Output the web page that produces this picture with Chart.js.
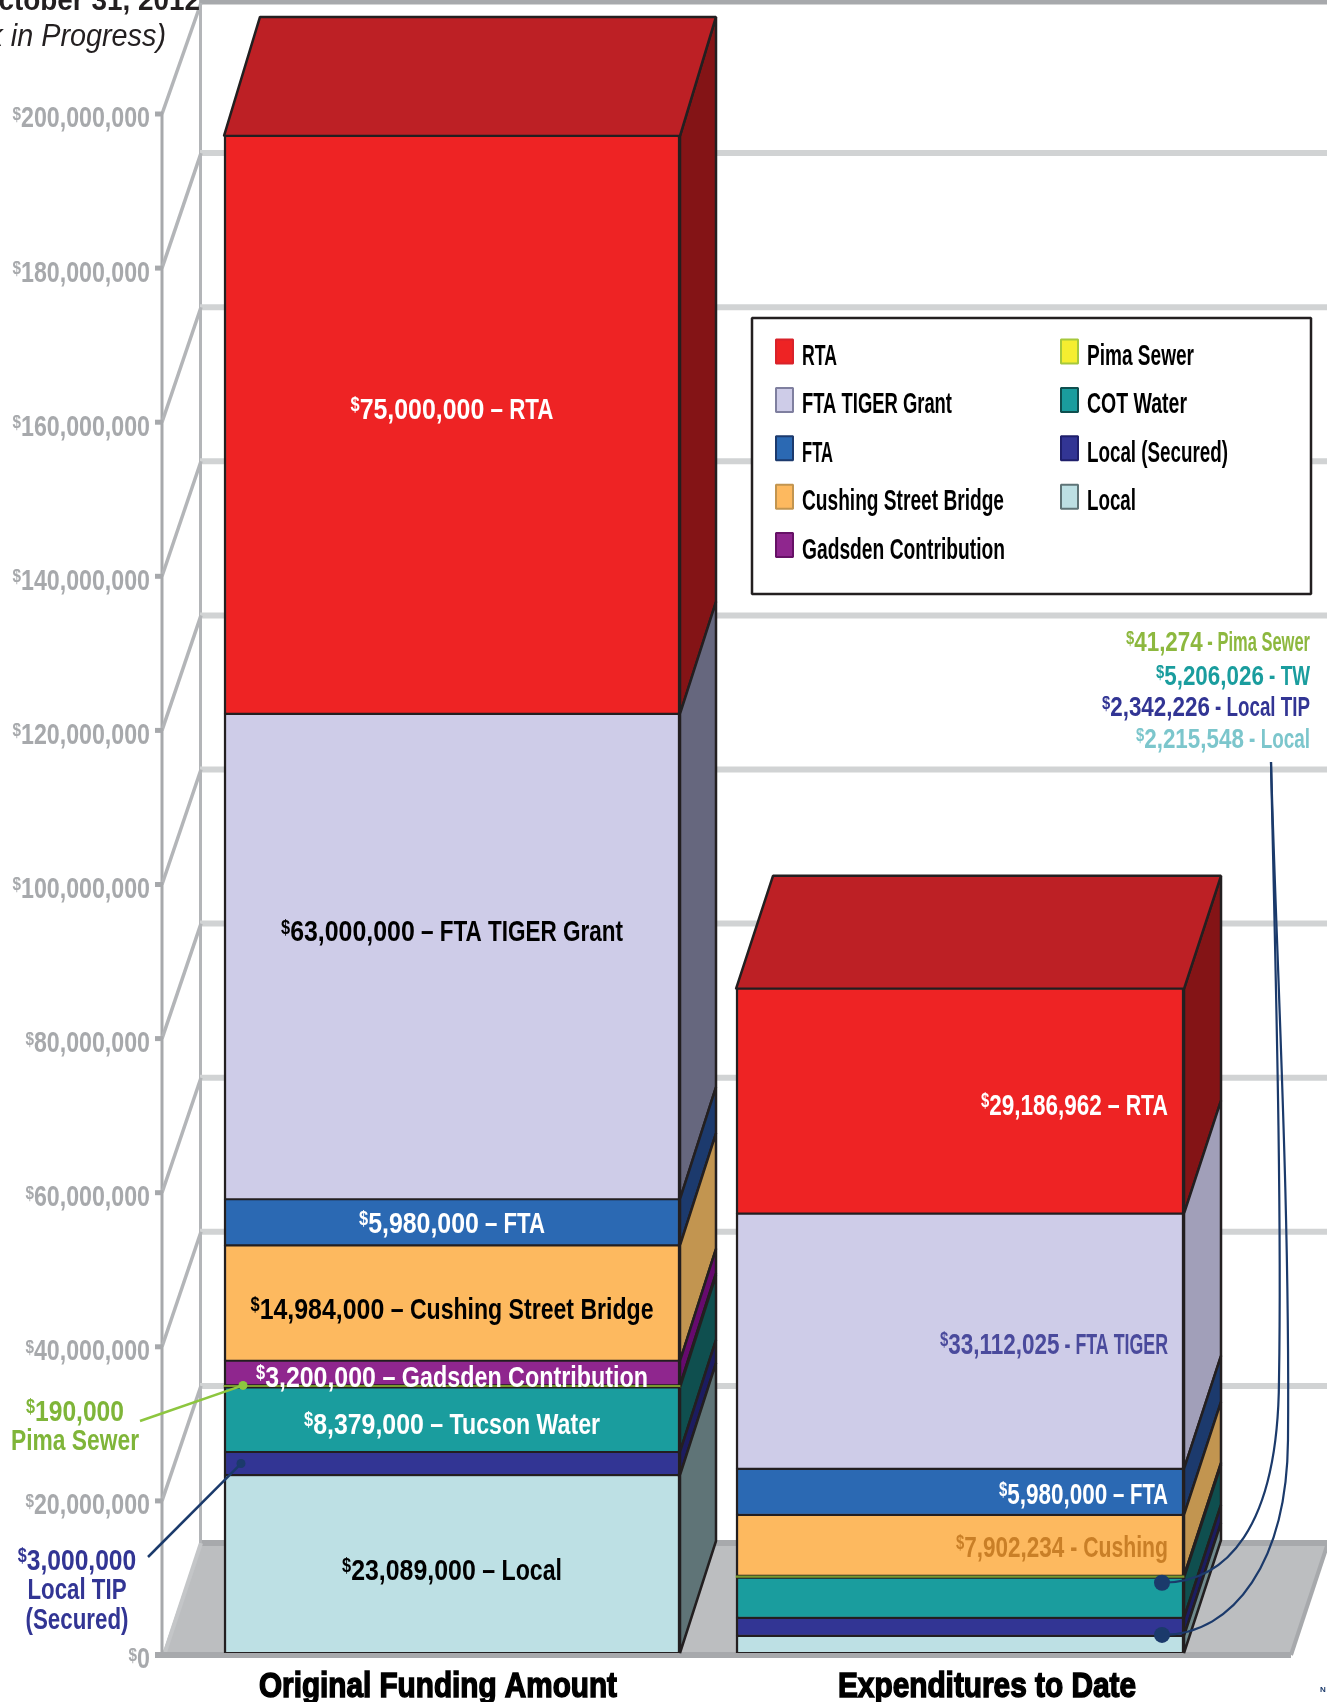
<!DOCTYPE html>
<html>
<head>
<meta charset="utf-8">
<title>Funding and expenditures</title>
<style>
html,body{margin:0;padding:0;background:#fff;overflow:hidden}
canvas{display:block}
</style>
<script src="https://cdn.jsdelivr.net/npm/chart.js@4"></script>
</head>
<body>
<canvas id="fundingChart" width="1327" height="1702"></canvas>
<script>
/// data, each series holds [Original Funding Amount, Expenditures to Date]
const aBars=["Original Funding Amount","Expenditures to Date"];
const aLocal=[23089000,2215548];
const aLocalSecured=[3000000,2342226];
const aCotWater=[8379000,5206026];
const aPimaSewer=[190000,41274];
const aGadsden=[3200000,null];
const aCushing=[14984000,7902234];
const aFta=[5980000,5980000];
const aTiger=[63000000,33112025];
const aRta=[75000000,29186962];
const aYTicks=[0,20000000,40000000,60000000,80000000,100000000,120000000,140000000,160000000,180000000,200000000];

/// stack order, bottom first
const aSeriesNames=["Local","Local (Secured)","COT Water","Pima Sewer","Gadsden Contribution","Cushing Street Bridge","FTA","FTA TIGER Grant","RTA"];
const aSeriesValues=[aLocal,aLocalSecured,aCotWater,aPimaSewer,aGadsden,aCushing,aFta,aTiger,aRta];
const aFill=["#bde0e4","#323594","#1a9d9e","#7a9a2e","#8f268e","#fdb95f","#2b69b3","#cecce8","#ee2324"];
const aSideLeft=["#5f7477","#1c1c60","#0f4f4f","#231f20","#660a6e","#c29550","#1c3a6d","#66677e","#841416"];
const aSideRight=["#6f8a8c","#1c1c60","#0f4f4f","#231f20","#660a6e","#c29550","#1c3a6d","#a19fb9","#841416"];

/// segment captions [text, colour, y nudge, text width], null when there is none
const aCaptionsLeft=[
    ["$23,089,000 – Local","#000",5,220],null,["$8,379,000 – Tucson Water","#fff",3,296],null,
    ["$3,200,000 – Gadsden Contribution","#fff",3,392],["$14,984,000 – Cushing Street Bridge","#000",5,403],
    ["$5,980,000 – FTA","#fff",0,186],["$63,000,000 – FTA TIGER Grant","#000",-26,342],["$75,000,000 – RTA","#fff",-17,203]
];
const aCaptionsRight=[
    null,null,null,null,null,["$7,902,234 - Cushing","#c97f27",1,212],
    ["$5,980,000 – FTA","#fff",1,169],["$33,112,025 - FTA TIGER","#4a4a9c",2,228],["$29,186,962 – RTA","#fff",3,187]
];

const aLegendLeft=[["RTA","#ee2324","#d8222a",35],["FTA TIGER Grant","#cecce8","#7f7f9f",150],["FTA","#2b69b3","#1c3a6d",31],["Cushing Street Bridge","#fdb95f","#c29550",202],["Gadsden Contribution","#8f268e","#661166",203]];
const aLegendRight=[["Pima Sewer","#f5ee30","#a6c83c",107],["COT Water","#1a9d9e","#0f4f4f",100],["Local (Secured)","#323594","#1f1f6b",141],["Local","#bde0e4","#5f7477",49]];
const aCallouts=[["$41,274 - Pima Sewer","#8db83f",184],["$5,206,026 - TW","#1a9d9e",154],["$2,342,226 - Local TIP","#323594",208],["$2,215,548 - Local","#7cc6cc",174]];

const sFace='"Liberation Sans",sans-serif';
const aDepth=[[36,-112,-119],[37,-113,-113]];
const aBarWidth=[456,448];

// one dataset per series per bar, so the two bars can have their own width
function getBar(chart,iSeries,iBar){
    return chart.getDatasetMeta(iBar*aSeriesNames.length+iSeries).data[iBar];
}

function setFont(ctx,iSize){
    ctx.font="bold "+iSize+"px "+sFace;
}

function fillSquashed(ctx,sText,x,y,iSx){
    ctx.save();
    ctx.translate(x,y);
    ctx.scale(iSx,1);
    ctx.fillText(sText,0,0);
    ctx.restore();
}

// condensed text with the small raised dollar sign, no condensed font is installed so it gets squeezed
function drawMoney(ctx,sText,x,y,sAlign,sColour,iSize,iTotal,iAmountSx){
    const bDollar=sText.charAt(0)==="$";
    const iSpace=sText.indexOf(" ");
    let sAmount="";
    let sRest=sText;
    const iSx=iAmountSx||0.8;
    if(bDollar){
        sAmount=iSpace<0?sText.slice(1):sText.slice(1,iSpace);
        sRest=iSpace<0?"":sText.slice(iSpace);
    }
    const iSup=iSize*0.66;
    setFont(ctx,iSup);
    const iSupWidth=bDollar?ctx.measureText("$").width*iSx:0;
    setFont(ctx,iSize);
    const iAmountWidth=ctx.measureText(sAmount).width*iSx;
    const iRestNatural=ctx.measureText(sRest).width;
    let iRestSx=iSx;
    if(iTotal&&iRestNatural>0){iRestSx=(iTotal-iSupWidth-iAmountWidth)/iRestNatural;}
    const iWidth=iSupWidth+iAmountWidth+iRestNatural*iRestSx;
    let iLeft=x;
    if(sAlign==="right"){iLeft=x-iWidth;}
    if(sAlign==="center"){iLeft=x-iWidth/2;}
    const iBase=y+iSize*0.36;
    ctx.textAlign="left";
    ctx.textBaseline="alphabetic";
    ctx.fillStyle=sColour;
    if(bDollar){
        setFont(ctx,iSup);
        fillSquashed(ctx,"$",iLeft,iBase-iSize*0.26,iSx);
        setFont(ctx,iSize);
        fillSquashed(ctx,sAmount,iLeft+iSupWidth,iBase,iSx);
    }
    if(sRest){fillSquashed(ctx,sRest,iLeft+iSupWidth+iAmountWidth,iBase,iRestSx);}
}

function poly(ctx,aPoints,sFill,sStroke,iWidth){
    ctx.beginPath();
    aPoints.forEach((p,i)=>{ if(i===0){ctx.moveTo(p[0],p[1]);}else{ctx.lineTo(p[0],p[1]);} });
    ctx.closePath();
    if(sFill){ctx.fillStyle=sFill;ctx.fill();}
    if(sStroke){ctx.strokeStyle=sStroke;ctx.lineWidth=iWidth;ctx.lineJoin="bevel";ctx.stroke();}
}

function line(ctx,x1,y1,x2,y2,sColour,iWidth){
    ctx.beginPath();
    ctx.moveTo(x1,y1);
    ctx.lineTo(x2,y2);
    ctx.strokeStyle=sColour;
    ctx.lineWidth=iWidth;
    ctx.stroke();
}

function dot(ctx,x,y,r,sColour){
    ctx.beginPath();
    ctx.arc(x,y,r,0,Math.PI*2);
    ctx.fillStyle=sColour;
    ctx.fill();
}

//// walls, floor, gridlines and the 3d faces of the bars
const backdropPlugin={
    id:"backdrop",
    beforeDatasetsDraw(chart){
        const ctx=chart.ctx;
        const y=chart.scales.y;
        const iMax=aYTicks[aYTicks.length-1];
        ctx.save();
        const iFloor=1543;
        poly(ctx,[[162,1655],[200,iFloor],[1327,iFloor],[1327,1546],[1291,1655]],"#bcbec0");
        line(ctx,200,iFloor,1327,iFloor,"#a7a9ac",6);
        line(ctx,164,1655,201,iFloor,"#c4c6c8",4);
        line(ctx,1291,1655,1327,1546,"#a7a9ac",4);
        line(ctx,155,1655,1291,1655,"#a7a9ac",6);
        line(ctx,162,y.getPixelForValue(iMax)+2,162,1655,"#a7a9ac",3);
        line(ctx,200.5,0,200.5,iFloor,"#b3b5b8",3);
        line(ctx,200,2,1327,2,"#a7a9ac",5);
        aYTicks.forEach(v=>{
            if(v===0){return;}
            const iPix=y.getPixelForValue(v)+2;
            if(v<iMax){
                line(ctx,200,iPix-115,1327,iPix-115,"#d1d3d4",6);
                line(ctx,162,iPix,201,iPix-115,"#b3b5b8",3.5);
            }else{
                line(ctx,162,iPix,201,3,"#b3b5b8",3.5);
            }
            line(ctx,155,iPix,163,iPix,"#a7a9ac",5);
        });
        // side faces, top of the stack first so lower ones sit over it
        for(let iBar=0;iBar<aBars.length;iBar++){
            const aSide=iBar===0?aSideLeft:aSideRight;
            const iDx=aDepth[iBar][0];
            const iDy=aDepth[iBar][1];
            const iDyTop=aDepth[iBar][2];
            const iTop=aSeriesNames.length-1;
            for(let i=iTop;i>=0;i--){
                if(aSeriesValues[i][iBar]===null){continue;}
                const el=getBar(chart,i,iBar);
                const xr=el.x+el.width/2;
                const iBackTop=el.y+(i===iTop?iDyTop:iDy);
                poly(ctx,[[xr,el.y],[xr+iDx,iBackTop],[xr+iDx,el.base+iDy],[xr,el.base]],aSide[i],"#231f20",2.5);
            }
            const elTop=getBar(chart,iTop,iBar);
            const xl=elTop.x-elTop.width/2;
            const xr=elTop.x+elTop.width/2;
            poly(ctx,[[xl,elTop.y],[xl+iDx,elTop.y+iDyTop],[xr+iDx,elTop.y+iDyTop],[xr,elTop.y]],"#bd2025","#231f20",2.5);
        }
        ctx.restore();
    },
    afterDatasetsDraw(chart){
        const ctx=chart.ctx;
        const y=chart.scales.y;
        ctx.save();

        // clipped heading behind the top of the axis
        ctx.textAlign="left";
        ctx.textBaseline="alphabetic";
        ctx.fillStyle="#231f20";
        ctx.font="bold 30px "+sFace;
        const iHead=ctx.measureText("October 31, 2012").width*0.93;
        fillSquashed(ctx,"October 31, 2012",200-iHead,10,0.93);
        ctx.font="italic 32px "+sFace;
        const iSub=ctx.measureText("(Work in Progress)").width*0.9;
        fillSquashed(ctx,"(Work in Progress)",166-iSub,46,0.9);

        // y axis labels
        y.ticks.forEach((tick,i)=>{
            drawMoney(ctx,tick.label,150,y.getPixelForTick(i)+5,"right","#a7a9ac",29,0,0.8);
        });

        // bar names
        aBars.forEach((sName,i)=>{
            const iCentre=i===0?438:987;
            const iTarget=i===0?358:298;
            setFont(ctx,35);
            const iNatural=ctx.measureText(sName).width;
            ctx.save();
            ctx.translate(iCentre-iTarget/2,1697);
            ctx.scale(iTarget/iNatural,1);
            ctx.textAlign="left";
            ctx.textBaseline="alphabetic";
            ctx.fillStyle="#000";
            ctx.strokeStyle="#000";
            ctx.lineWidth=1.5;
            ctx.fillText(sName,0,0);
            ctx.strokeText(sName,0,0);
            ctx.restore();
        });

        // captions on the bars
        aSeriesNames.forEach((sName,i)=>{
            const aLeft=aCaptionsLeft[i];
            const aRight=aCaptionsRight[i];
            if(aLeft){
                const el=getBar(chart,i,0);
                drawMoney(ctx,aLeft[0],el.x,(el.y+el.base)/2+aLeft[2],"center",aLeft[1],30,aLeft[3],0.83);
            }
            if(aRight){
                const el=getBar(chart,i,1);
                drawMoney(ctx,aRight[0],1168,(el.y+el.base)/2+aRight[2],"right",aRight[1],30,aRight[3],0.75);
            }
        });

        // legend box
        poly(ctx,[[752,318],[1311,318],[1311,594],[752,594]],"#fff","#231f20",2.5);
        aLegendLeft.forEach((item,i)=>{
            const iY=352.5+i*48.4;
            poly(ctx,[[776,iY-13],[793,iY-13],[793,iY+11],[776,iY+11]],item[1],item[2],2);
            drawMoney(ctx,item[0],802,iY+2,"left","#000",29,item[3]);
        });
        aLegendRight.forEach((item,i)=>{
            const iY=352.5+i*48.4;
            poly(ctx,[[1061,iY-13],[1078,iY-13],[1078,iY+11],[1061,iY+11]],item[1],item[2],2);
            drawMoney(ctx,item[0],1087,iY+2,"left","#000",29,item[3]);
        });

        // right hand callouts
        const aCalloutY=[641,675,706,738];
        aCallouts.forEach((item,i)=>{
            drawMoney(ctx,item[0],1310,aCalloutY[i],"right",item[1],28,item[2],0.8);
        });

        // left hand callouts with their leaders
        const elPima=getBar(chart,3,0);
        line(ctx,140,1421,243,elPima.y,"#8dc63f",2.5);
        dot(ctx,243,elPima.y,4.5,"#8dc63f");
        drawMoney(ctx,"$190,000",75,1410,"center","#7fb539",30,0,0.82);
        drawMoney(ctx,"Pima Sewer",75,1439,"center","#7fb539",30,128);

        const elSecured=getBar(chart,1,0);
        const iSecuredY=(elSecured.y+elSecured.base)/2;
        line(ctx,148,1557,241,iSecuredY,"#1b3a6b",2.5);
        dot(ctx,241,iSecuredY,4.5,"#1b3a6b");
        drawMoney(ctx,"$3,000,000",77,1559,"center","#323594",30,0,0.82);
        drawMoney(ctx,"Local TIP",77,1588,"center","#323594",30,99);
        drawMoney(ctx,"(Secured)",77,1618,"center","#323594",30,103);

        // curved leaders from the thin expenditures segments
        const elPimaSpent=getBar(chart,3,1);
        const elSecuredSpent=getBar(chart,1,1);
        const iDot1=elPimaSpent.y+7;
        const iDot2=elSecuredSpent.base-1;
        ctx.strokeStyle="#1b3a6b";
        ctx.lineWidth=2.2;
        ctx.beginPath();
        ctx.moveTo(1162,iDot1);
        ctx.bezierCurveTo(1225,iDot1,1278,1530,1279,1380);
        ctx.bezierCurveTo(1282,1200,1275,950,1271,762);
        ctx.stroke();
        ctx.beginPath();
        ctx.moveTo(1162,iDot2);
        ctx.bezierCurveTo(1235,iDot2,1287,1560,1288,1440);
        ctx.bezierCurveTo(1290,1200,1276,950,1271,762);
        ctx.stroke();
        dot(ctx,1162,iDot1,8,"#1b3a6b");
        dot(ctx,1162,iDot2,8,"#1b3a6b");

        ctx.fillStyle="#1b3a6b";
        ctx.font="bold 8px "+sFace;
        ctx.textAlign="left";
        ctx.fillText("N",1320,1692);
        ctx.restore();
    }
};

let aData=[];
aBars.forEach((sBar,iBar)=>{
    aSeriesNames.forEach((sName,i)=>{
        aData.push({
            label:sName,
            data:aBars.map((b,j)=>j===iBar?aSeriesValues[i][j]:null),
            backgroundColor:aFill[i],
            borderColor:"#231f20",
            borderWidth:sName==="Pima Sewer"?0:{left:2.5,right:2.5,top:1.4,bottom:1.4},
            borderSkipped:false,
            minBarLength:sName==="Pima Sewer"?2:0,
            barThickness:aBarWidth[iBar]
        });
    });
});

let config={
    type:"bar",
    data:{labels:aBars,datasets:aData},
    options:{
        responsive:false,
        animation:false,
        layout:{padding:{top:112,bottom:49,left:0,right:113}},
        plugins:{legend:{display:false},tooltip:{enabled:false},title:{display:false}},
        scales:{
            x:{
                stacked:true,
                grid:{display:false},
                border:{display:false},
                ticks:{display:false},
                afterFit(scale){ scale.height=0; }
            },
            y:{
                stacked:true,
                min:0,
                max:200000000,
                grid:{display:false},
                border:{display:false},
                afterBuildTicks(scale){ scale.ticks=aYTicks.map(v=>({value:v})); },
                afterFit(scale){ scale.width=198; },
                ticks:{
                    display:false,
                    callback:v=>"$"+Number(v).toLocaleString("en-US")
                }
            }
        }
    },
    plugins:[backdropPlugin]
};

new Chart(document.getElementById("fundingChart").getContext("2d"),config);
</script>
</body>
</html>
